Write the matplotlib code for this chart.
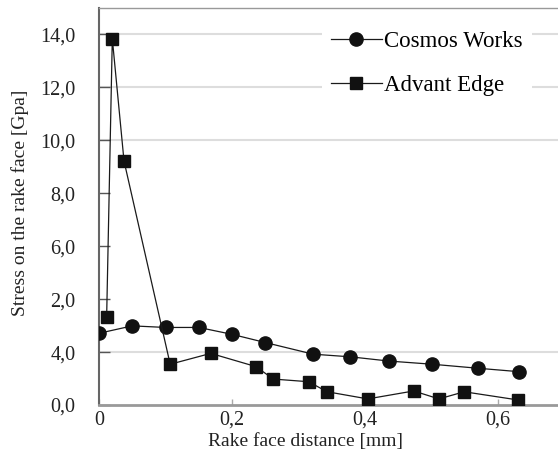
import matplotlib
matplotlib.use("Agg")
import matplotlib.pyplot as plt

plt.rcParams['font.family'] = ['Liberation Serif', 'DejaVu Serif']

# Data (axis units as drawn)
cosmos_x = [0.0, 0.05, 0.10, 0.15, 0.20, 0.25, 0.322, 0.378, 0.436, 0.501, 0.569, 0.631]
cosmos_y = [2.71, 2.99, 2.93, 2.93, 2.67, 2.36, 1.92, 1.82, 1.66, 1.54, 1.39, 1.26]

advant_x = [0.0115, 0.020, 0.0376, 0.107, 0.168, 0.236, 0.262, 0.315, 0.343, 0.404, 0.473, 0.511, 0.549, 0.630]
advant_y = [3.34, 13.84, 9.22, 1.54, 1.95, 1.45, 0.98, 0.88, 0.50, 0.23, 0.53, 0.23, 0.50, 0.19]

y_ticks = [0, 2, 4, 6, 8, 10, 12, 14]
y_tick_labels = ["0,0", "4,0", "2,0", "6,0", "8,0", "10,0", "12,0", "14,0"]
x_ticks = [0, 0.2, 0.4, 0.6]
x_tick_labels = ["0", "0,2", "0,4", "0,6"]
grid_levels = [2, 10, 12, 14]

fig = plt.figure(figsize=(5.58, 4.59), dpi=100)
ax = fig.add_axes([99/558, 1 - 405/459, 1 - 99/558, (405 - 8)/459])

ax.set_xlim(0, 0.69)
ax.set_ylim(0, 15.0)

for g in grid_levels:
    ax.axhline(g, color='#dddddd', lw=1.5, zorder=0)

ax.plot(cosmos_x, cosmos_y, '-o', color='#1a1a1a', lw=0.9, ms=9.5,
        markerfacecolor='#111111', markeredgecolor='#111111', label='Cosmos Works', zorder=3)
ax.plot(advant_x, advant_y, '-s', color='#1a1a1a', lw=0.9, ms=9,
        markerfacecolor='#111111', markeredgecolor='#111111', label='Advant Edge', zorder=3)

ax.set_yticks(y_ticks)
ax.set_yticklabels(y_tick_labels)
ax.set_xticks(x_ticks)
ax.set_xticklabels(x_tick_labels)
ax.tick_params(axis='y', direction='in', length=8, width=1, colors='#555555', labelcolor='#222222',
               labelsize=14.5, pad=17)
ax.tick_params(axis='x', direction='in', length=4, width=1, colors='#aaaaaa', labelcolor='#222222',
               labelsize=14.5, pad=4)

ax.spines['right'].set_visible(False)
ax.spines['left'].set_color('#666666')
ax.spines['left'].set_linewidth(1.5)
ax.spines['bottom'].set_color('#999999')
ax.spines['bottom'].set_linewidth(2)
ax.spines['top'].set_color('#999999')
ax.spines['top'].set_linewidth(1)

ax.set_xlabel('Rake face distance [mm]', fontsize=14, color='#222222')
ax.set_ylabel('Stress on the rake face [Gpa]', fontsize=14, color='#222222')
ax.xaxis.set_label_coords((306 - 99) / 459, (405 - 433) / 397)
ax.yaxis.set_label_coords((29 - 99) / 459, (405 - 203) / 397)

leg = ax.legend(loc='upper left', bbox_to_anchor=((322 - 99) / 459, (405 - 22) / 397), frameon=True,
                fontsize=16.5, handlelength=2.2, handletextpad=0.1, labelspacing=1.0,
                borderpad=0.4, borderaxespad=0)
leg.get_frame().set_edgecolor('none')
leg.get_frame().set_facecolor('white')
leg.get_frame().set_alpha(1)

fig.savefig('out.png', dpi=100)
